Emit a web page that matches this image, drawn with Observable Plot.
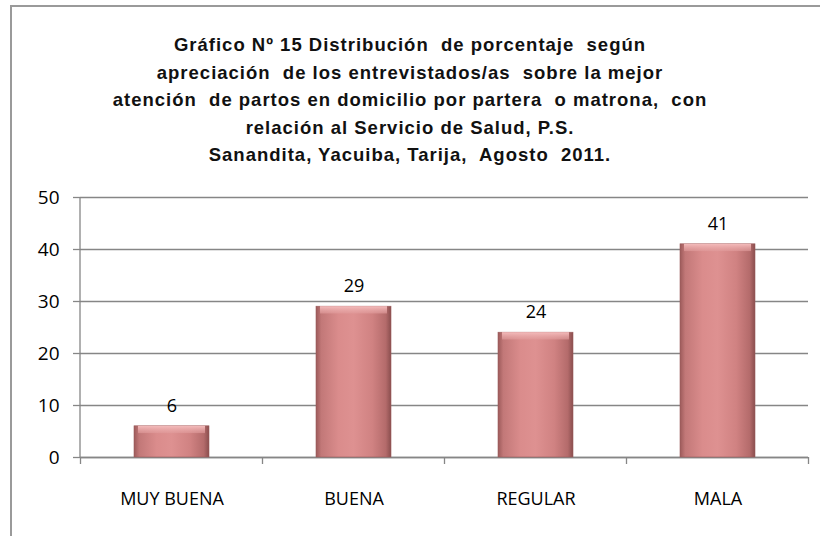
<!DOCTYPE html>
<html>
<head>
<meta charset="utf-8">
<script src="https://cdn.jsdelivr.net/npm/d3@7"></script>
<script src="https://cdn.jsdelivr.net/npm/@observablehq/plot@0.6"></script>
<style>
  html, body { margin: 0; padding: 0; background: #fff; }
  #wrap { position: relative; width: 820px; height: 536px; overflow: hidden; background: #fff; }
  #frame { position: absolute; left: 10px; top: 5px; width: 900px; height: 700px; border-left: 2px solid #9a9a9a; border-top: 2px solid #9a9a9a; }
  #title { position: absolute; left: 0; width: 820px; top: 31px; text-align: center;
    font-family: "Liberation Sans Narrow", "Arial Narrow", "Liberation Sans", sans-serif;
    font-weight: bold; font-size: 18.5px; letter-spacing: 1px; line-height: 27.5px; color: #111; }
  #chart { position: absolute; left: 0; top: 170px; }
</style>
</head>
<body>
<div id="wrap">
  <div id="frame"></div>
  <div id="title">Gráfico Nº 15 Distribución&nbsp; de porcentaje&nbsp; según<br>apreciación&nbsp; de los entrevistados/as&nbsp; sobre la mejor<br>atención&nbsp; de partos en domicilio por partera&nbsp; o matrona,&nbsp; con<br>relación al Servicio de Salud, P.S.<br>Sanandita, Yacuiba, Tarija,&nbsp; Agosto&nbsp; 2011.</div>
  <div id="chart"></div>
</div>
<script>
const categories = ["MUY BUENA", "BUENA", "REGULAR", "MALA"];
const values = [6, 29, 24, 41];
const yTicks = [0, 10, 20, 30, 40, 50];

const data = categories.map((c, i) => ({cat: c, value: values[i]}));
const font = "'Open Sans', 'Noto Sans', sans-serif";

const plot = Plot.plot({
  width: 820,
  height: 366,
  marginTop: 27,
  marginBottom: 79,
  marginLeft: 80,
  marginRight: 12,
  style: {fontFamily: font, fontSize: "18px", color: "#000", background: "transparent"},
  x: {domain: categories, paddingInner: 0.59, paddingOuter: 0.295, label: null},
  y: {domain: [0, 50], label: null},
  marks: [
    Plot.gridY(yTicks, {stroke: "#868686", strokeOpacity: 1, strokeWidth: 1.3}),
    Plot.ruleY([0], {stroke: "#868686", strokeWidth: 1.3}),
    Plot.axisY({ticks: yTicks, tickSize: 7, tickPadding: 14, stroke: "#868686", strokeWidth: 1.3, fontSize: 19, fill: "#000"}),
    Plot.axisX({tickSize: 0, tickPadding: 35, fontSize: 18, fill: "#000"}),
    Plot.barY(data, {x: "cat", y: "value", fill: "url(#barGrad)", stroke: "#9b5c5c", strokeWidth: 0.6}),
    Plot.barY(data, {x: "cat", y1: "value", y2: d => d.value - 1.4, fill: "url(#topGrad)", insetLeft: 4, insetRight: 4}),
    Plot.text(data, {x: "cat", y: "value", text: d => String(d.value), dy: -20, fontSize: 18, fill: "#000"})
  ]
});

document.getElementById("chart").appendChild(plot);

const svg = d3.select(plot);
const defs = svg.insert("defs", ":first-child");
const g = defs.append("linearGradient").attr("id", "barGrad").attr("x1", "0").attr("x2", "1").attr("y1", "0").attr("y2", "0");
[[0, "#9c5a5a"], [0.07, "#c27878"], [0.3, "#da8c8c"], [0.5, "#de9191"], [0.75, "#d08282"], [0.93, "#b46b6b"], [1, "#8a4e4e"]]
  .forEach(([o, c]) => g.append("stop").attr("offset", o).attr("stop-color", c));
const t = defs.append("linearGradient").attr("id", "topGrad").attr("x1", "0").attr("x2", "0").attr("y1", "0").attr("y2", "1");
[[0, "#f4bcbc", 1], [1, "#e19c9c", 0.6]].forEach(([o, c, op]) => t.append("stop").attr("offset", o).attr("stop-color", c).attr("stop-opacity", op));

const xs = plot.scale("x");
const ys = plot.scale("y");
const y0 = ys.apply(0), y50 = ys.apply(50);
const xLeft = xs.range[0];
// vertical y-axis line
svg.append("line").attr("x1", xLeft).attr("x2", xLeft).attr("y1", y50).attr("y2", y0)
  .attr("stroke", "#868686").attr("stroke-width", 1.3);
// tick marks at category boundaries along the x axis, from the band scale
const gap = xs.step - xs.bandwidth;
const bounds = categories.map(c => xs.apply(c) - gap / 2);
bounds.push(xs.apply(categories[categories.length - 1]) + xs.bandwidth + gap / 2);
svg.append("g").selectAll("line").data(bounds).join("line")
  .attr("x1", d => d).attr("x2", d => d)
  .attr("y1", y0).attr("y2", y0 + 7)
  .attr("stroke", "#868686").attr("stroke-width", 1.3);
</script>
</body>
</html>
